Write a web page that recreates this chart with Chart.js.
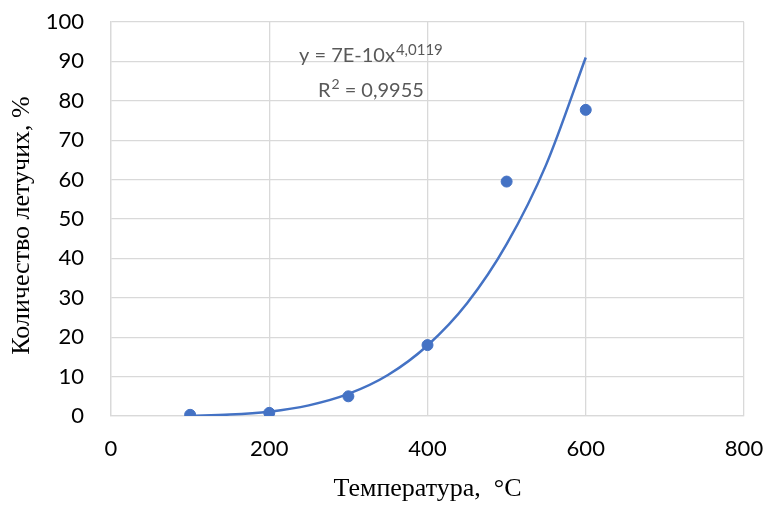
<!DOCTYPE html>
<html lang="ru">
<head>
    <meta charset="UTF-8">
    <title>Количество летучих</title>
    <script src="https://cdn.jsdelivr.net/npm/chart.js"></script>
    <style>
        * { margin: 0; padding: 0; box-sizing: border-box; }
        body { background: #ffffff; width: 767px; height: 505px; overflow: hidden; }
        canvas { display: block; }
    </style>
</head>
<body>
    <canvas id="grafico" width="767" height="505"></canvas>

    <script>
        // измеренные точки
        const temperaturas = [100, 200, 300, 400, 500, 600];
        const volateis = [0.3, 0.8, 5.0, 18.0, 59.5, 77.7];

        // линия тренда
        const trendX = [100, 150, 200, 250, 300, 350, 400, 450, 500, 550, 600];
        const trendY = [0.07, 0.35, 1.1, 2.7, 5.6, 10.4, 17.9, 28.6, 43.6, 63.8, 91];

        const xTicks = [0, 200, 400, 600, 800];
        const yTicks = [0, 10, 20, 30, 40, 50, 60, 70, 80, 90, 100];

        const azul = '#4472C4';
        const grade = '#d9d9d9';

        // без автоматических отступов под подписи
        function semPadding(s) {
            s.paddingTop = 0;
            s.paddingBottom = 0;
            s.paddingLeft = 0;
            s.paddingRight = 0;
        }

        const equacao = {
            id: 'equacao',
            afterDraw(chart) {
                const c = chart.ctx;
                c.save();
                c.fillStyle = '#595959';
                c.textBaseline = 'alphabetic';
                c.textAlign = 'left';
                c.font = '20px Lato';
                c.fillText('y = 7E-10x', 299, 62);
                const w = c.measureText('y = 7E-10x').width;
                c.font = '15px Lato';
                c.fillText('4,0119', 299 + w + 1, 55);
                c.font = '20px Lato';
                c.fillText('R', 318, 97);
                const wr = c.measureText('R').width;
                c.font = '14px Lato';
                c.fillText('2', 318 + wr + 1, 89);
                c.font = '20px Lato';
                c.fillText(' = 0,9955', 318 + wr + 9, 97);
                c.restore();
            }
        };

        const ctx = document.getElementById('grafico').getContext('2d');

        new Chart(ctx, {
            type: 'scatter',
            data: {
                datasets: [
                    {
                        label: 'Тренд',
                        data: trendX.map((x, i) => ({ x: x, y: trendY[i] })),
                        showLine: true,
                        borderColor: azul,
                        borderWidth: 2.5,
                        pointRadius: 0,
                        cubicInterpolationMode: 'monotone',
                        order: 2
                    },
                    {
                        label: 'Количество летучих',
                        data: temperaturas.map((x, i) => ({ x: x, y: volateis[i] })),
                        backgroundColor: azul,
                        borderColor: azul,
                        pointRadius: 5.5,
                        order: 1
                    }
                ]
            },
            options: {
                responsive: false,
                animation: false,
                layout: { padding: { top: 22, right: 23, left: 0, bottom: 0 } },
                plugins: {
                    legend: { display: false },
                    tooltip: { enabled: false }
                },
                scales: {
                    x: {
                        type: 'linear',
                        min: 0,
                        max: 800,
                        afterFit: s => { s.height = 89; semPadding(s); },
                        afterBuildTicks: s => { s.ticks = xTicks.map(v => ({ value: v })); },
                        grid: { color: grade, lineWidth: 1.3, drawTicks: false },
                        border: { color: grade, width: 1.3 },
                        ticks: {
                            color: '#000',
                            padding: 20,
                            maxRotation: 0,
                            font: { family: 'Lato', size: 22 }
                        },
                        title: {
                            display: true,
                            text: 'Температура,  °С',
                            color: '#000',
                            padding: { top: 0, bottom: 0 },
                            font: { family: 'Liberation Serif', size: 26 }
                        }
                    },
                    y: {
                        min: 0,
                        max: 100,
                        afterFit: s => { s.width = 111; semPadding(s); },
                        afterBuildTicks: s => { s.ticks = yTicks.map(v => ({ value: v })); },
                        grid: { color: grade, lineWidth: 1.3, drawTicks: false },
                        border: { color: grade, width: 1.3 },
                        ticks: {
                            color: '#000',
                            padding: 27,
                            font: { family: 'Lato', size: 22 }
                        },
                        title: {
                            display: true,
                            text: 'Количество летучих, %  ',
                            color: '#000',
                            padding: { top: 7, bottom: 0 },
                            font: { family: 'Liberation Serif', size: 26 }
                        }
                    }
                }
            },
            plugins: [equacao]
        });
    </script>
</body>
</html>
